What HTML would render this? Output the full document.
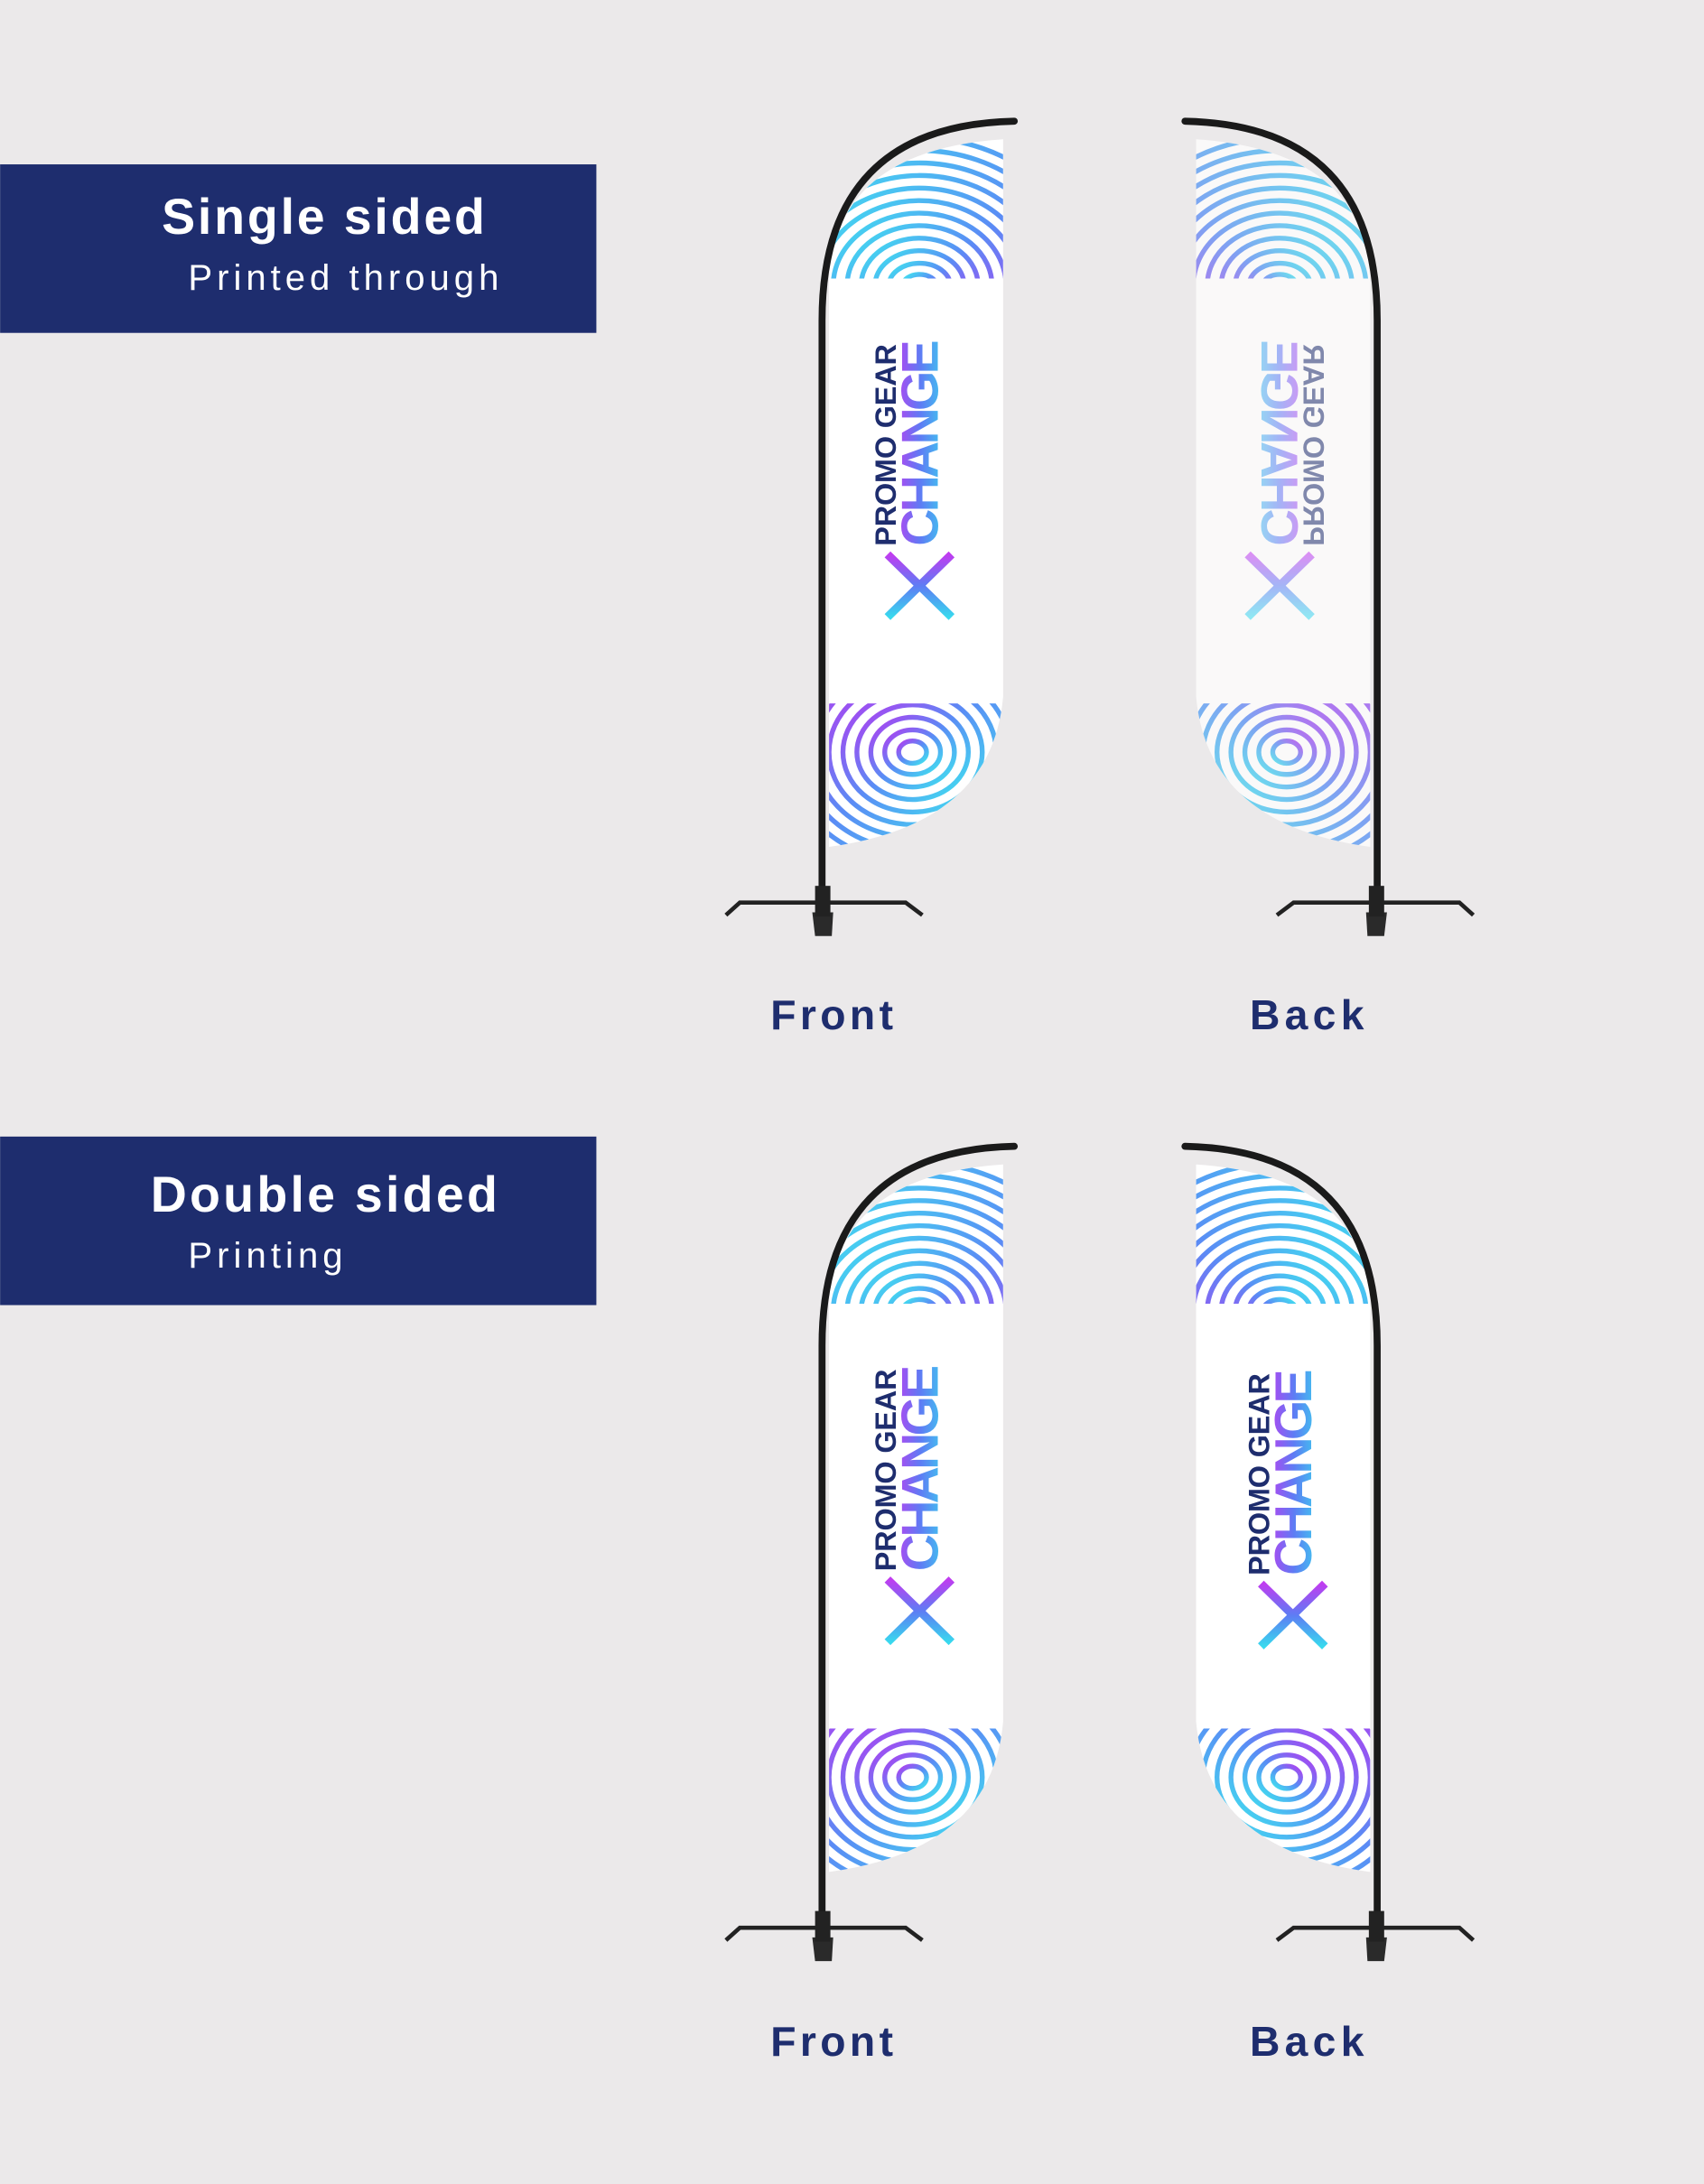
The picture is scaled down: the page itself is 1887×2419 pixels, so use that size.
<!DOCTYPE html>
<html><head><meta charset="utf-8"><style>
html,body{margin:0;padding:0;background:#ebe9ea;}
svg{display:block;}
</style></head><body>
<svg width="1887" height="2419" viewBox="0 0 1223 1568" xmlns="http://www.w3.org/2000/svg" font-family="Liberation Sans, sans-serif">
<defs>
  <linearGradient id="sw" x1="0" y1="0" x2="1" y2="1">
    <stop offset="0" stop-color="#3fe6ef"/><stop offset="0.5" stop-color="#5a8cf5"/><stop offset="1" stop-color="#b23cf0"/>
  </linearGradient>
  <linearGradient id="sw2" x1="0" y1="0" x2="1" y2="1">
    <stop offset="0" stop-color="#b23cf0"/><stop offset="0.5" stop-color="#5a8cf5"/><stop offset="1" stop-color="#3fe6ef"/>
  </linearGradient>
  <linearGradient id="tg" x1="0" y1="1" x2="0" y2="0">
    <stop offset="0" stop-color="#38d9ee"/><stop offset="0.5" stop-color="#5e7cf4"/><stop offset="1" stop-color="#c03cf0"/>
  </linearGradient>
  <clipPath id="fc"><path d="M595,200 Q600,108 720,100 L720,500 Q712,592 595,608 Z"/></clipPath>
  <g id="swirlT">
    <g fill="none" stroke="url(#sw)" stroke-width="3.5">
      <ellipse cx="660" cy="205" rx="12" ry="8"/><ellipse cx="660" cy="205" rx="22" ry="16"/>
      <ellipse cx="660" cy="205" rx="32" ry="25"/><ellipse cx="660" cy="205" rx="42" ry="34"/>
      <ellipse cx="660" cy="205" rx="52" ry="43"/><ellipse cx="660" cy="205" rx="62" ry="52"/>
      <ellipse cx="660" cy="205" rx="72" ry="61"/><ellipse cx="660" cy="205" rx="82" ry="70"/>
      <ellipse cx="660" cy="205" rx="92" ry="79"/><ellipse cx="660" cy="205" rx="102" ry="88"/>
      <ellipse cx="660" cy="205" rx="112" ry="97"/><ellipse cx="660" cy="205" rx="122" ry="106"/>
    </g>
  </g>
  <g id="swirlB">
    <g fill="none" stroke="url(#sw2)" stroke-width="3.5">
      <ellipse cx="655" cy="540" rx="10" ry="8"/><ellipse cx="655" cy="540" rx="20" ry="16"/>
      <ellipse cx="655" cy="540" rx="30" ry="25"/><ellipse cx="655" cy="540" rx="40" ry="34"/>
      <ellipse cx="655" cy="540" rx="50" ry="43"/><ellipse cx="655" cy="540" rx="60" ry="52"/>
      <ellipse cx="655" cy="540" rx="70" ry="61"/><ellipse cx="655" cy="540" rx="80" ry="70"/>
      <ellipse cx="655" cy="540" rx="90" ry="79"/>
    </g>
  </g>
  <clipPath id="tc"><rect x="590" y="95" width="135" height="105"/></clipPath>
  <clipPath id="bc"><rect x="590" y="505" width="135" height="110"/></clipPath>
  <g id="flagbody">
    <path d="M595,200 Q600,108 720,100 L720,500 Q712,592 595,608 Z" fill="#fff"/>
    <g clip-path="url(#fc)">
      <use href="#swirlT" clip-path="url(#tc)"/>
      <use href="#swirlB" clip-path="url(#bc)"/>
    </g>
  </g>
  <g id="logo">
    <text transform="translate(643,392) rotate(-90)" font-size="21" font-weight="bold" fill="#1e2d6e" textLength="145">PROMO GEAR</text>
    <text transform="translate(673,392) rotate(-90)" font-size="37" font-weight="bold" fill="url(#tg)" textLength="148">CHANGE</text>
    <path d="M637,398 L683,443 M637,443 L683,398" stroke="url(#tg)" stroke-width="6" fill="none"/>
  </g>
  <g id="hw">
    <path d="M590,660 L590,230 Q590,90 728,87" fill="none" stroke="#1a1a1a" stroke-width="5" stroke-linecap="round"/>
    <path d="M521,657 L531,648 L650,648 L662,657" fill="none" stroke="#222" stroke-width="3"/>
    <path d="M583,655 L585,672 L597,672 L598,655 Z" fill="#2a2a2a"/>
    <rect x="585" y="636" width="11" height="22" fill="#222"/>
  </g>
</defs>

<rect width="1223" height="1568" fill="#ebe9ea"/>

<rect x="0" y="118" width="428" height="121" fill="#1e2d6e"/>
<text x="116" y="168" font-size="36" font-weight="bold" fill="#fff" textLength="232">Single sided</text>
<text x="135" y="208" font-size="26" fill="#fff" textLength="223">Printed through</text>
<rect x="0" y="816" width="428" height="121" fill="#1e2d6e"/>
<text x="108" y="870" font-size="36" font-weight="bold" fill="#fff" textLength="249">Double sided</text>
<text x="135" y="910" font-size="26" fill="#fff" textLength="111">Printing</text>

<use href="#flagbody"/><use href="#logo"/><use href="#hw"/>
<g transform="translate(1578.5,0) scale(-1,1)">
  <use href="#flagbody" opacity="0.75"/><use href="#logo" opacity="0.55"/><use href="#hw"/>
</g>
<text x="553" y="739" font-size="30" font-weight="bold" fill="#1e2d6e" textLength="88">Front</text>
<text x="897" y="739" font-size="30" font-weight="bold" fill="#1e2d6e" textLength="82">Back</text>

<g transform="translate(0,736)">
  <use href="#flagbody"/><use href="#logo"/><use href="#hw"/>
  <g transform="translate(1578.5,0) scale(-1,1)">
    <use href="#flagbody"/><use href="#hw"/>
  </g>
  <use href="#logo" transform="translate(268,3)"/>
  <text x="553" y="740" font-size="30" font-weight="bold" fill="#1e2d6e" textLength="88">Front</text>
  <text x="897" y="740" font-size="30" font-weight="bold" fill="#1e2d6e" textLength="82">Back</text>
</g>
</svg>
</body></html>
